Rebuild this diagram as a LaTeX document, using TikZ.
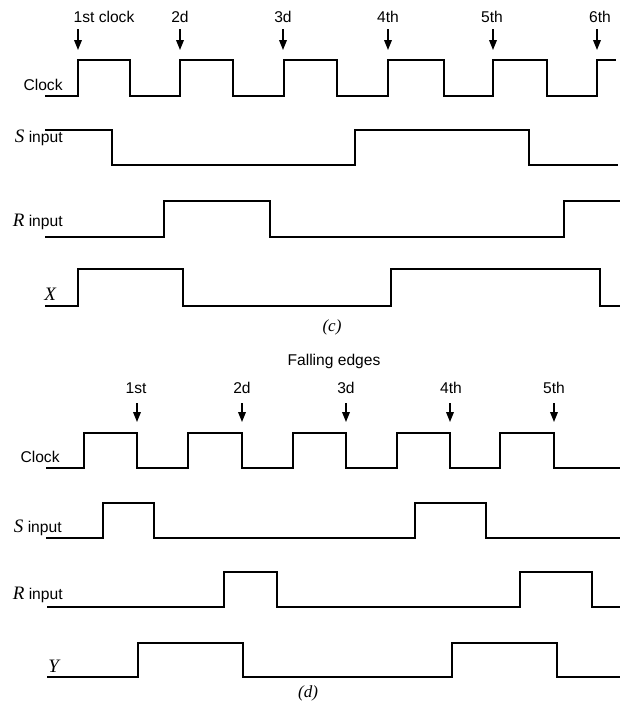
\documentclass[tikz,border=0pt]{standalone}
\usepackage{fontspec}
\setmainfont{Liberation Sans}
\newfontfamily\serifit{Liberation Serif}
\usetikzlibrary{arrows.meta}
\newcommand{\sigvar}[1]{{\fontsize{9.5}{10}\selectfont\serifit\itshape #1}}
\newcommand{\wave}[5]{
	\draw[sig] (#1,#2)
	\foreach \t [count=\i] in {#4} {
		\ifodd\i
		-| (\t,#3)
		\else
		-| (\t,#2)
		\fi
	} -- (#5);
}
\newcommand{\edgemarks}[5]{
	\foreach \x/\tx/\txt [count=\i] in {#5} {
		\node[marklabel] (#1\i) at (\tx,#2) {\txt};
		\draw[edgearrow] (\x,#3) -- (\x,#4);
	};
}
\tikzset{
	sig/.style={line width=1pt},
	edgearrow/.style={line width=0.8pt, -{Triangle[length=5pt,width=3.8pt]}},
	siglabel/.style={font=\fontsize{7.8}{9}\selectfont, inner sep=0pt, anchor=base east},
	marklabel/.style={siglabel, anchor=base},
	subcap/.style={font=\fontsize{8.5}{10}\selectfont\serifit\itshape, inner sep=0pt, anchor=base},
}

\begin{document}
\begin{tikzpicture}[x=0.5pt,y=-0.5pt]
	\useasboundingbox (0,0) rectangle (622,703);
	
	% (c) rising edges
	\edgemarks{rc}{22}{29}{50}{78/104/1st clock,180/180/2d,283/283/3d,388/388/4th,493/492/5th,597/600/6th}
	\wave{45}{96}{60}{78,130,180,233,284,337,388,444,493,547,597}{616,60}
	\wave{45}{130}{165}{112,355,529}{618,165}
	\wave{45}{237}{201}{164,270,564}{620,201}
	\wave{45}{306}{269}{78,183,391,600}{620,306}
	\node[siglabel] (clkc) at (63,90) {Clock};
	\node[siglabel] (sinc) at (63,142) {\sigvar{S} input};
	\node[siglabel] (rinc) at (63,226) {\sigvar{R} input};
	\node[siglabel, anchor=base west] (xout) at (44,300) {\sigvar{X}};
	\node[subcap] (capc) at (332,331) {(c)};
	
	% (d) falling edges
	\node[marklabel] (falling) at (334,365) {Falling edges};
	\edgemarks{fd}{393}{403}{422}{137/136/1st,242/242/2d,346/346/3d,450/451/4th,554/554/5th}
	\wave{46}{468}{433}{84,137,188,242,293,346,397,450,500,554}{620,468}
	\wave{46}{538}{503}{103,154,415,486}{620,538}
	\wave{47}{607}{572}{224,277,520,592}{620,607}
	\wave{47}{677}{643}{138,243,452,557}{620,677}
	\node[siglabel] (clkd) at (60,462) {Clock};
	\node[siglabel] (sind) at (62,532) {\sigvar{S} input};
	\node[siglabel] (rind) at (63,599) {\sigvar{R} input};
	\node[siglabel, anchor=base west] (yout) at (48,672) {\sigvar{Y}};
	\node[subcap] (capd) at (308,697) {(d)};
\end{tikzpicture}
\end{document}
